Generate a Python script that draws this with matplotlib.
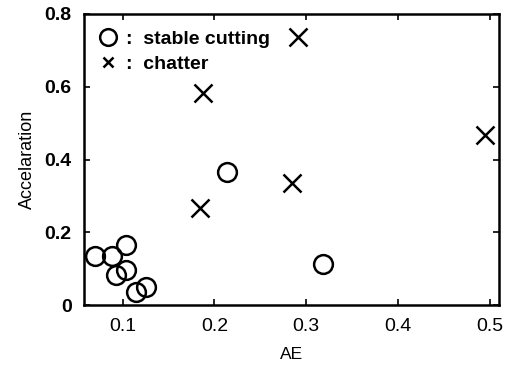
import matplotlib
matplotlib.use("Agg")
import matplotlib.pyplot as plt
from matplotlib.lines import Line2D

plt.rcParams['font.family'] = ['Liberation Sans', 'DejaVu Sans']

# Data
stable_ae = [0.070, 0.088, 0.104, 0.093, 0.104, 0.115, 0.125, 0.214, 0.318]
stable_acc = [0.135, 0.135, 0.165, 0.082, 0.096, 0.036, 0.049, 0.366, 0.113]
chatter_ae = [0.188, 0.184, 0.285, 0.495, 0.291]
chatter_acc = [0.583, 0.267, 0.336, 0.468, 0.737]

xticks = [0.1, 0.2, 0.3, 0.4, 0.5]
xticklabels = ["0.1", "0.2", "0.3", "0.4", "0.5"]
yticks = [0, 0.2, 0.4, 0.6, 0.8]
yticklabels = ["0", "0.2", "0.4", "0.6", "0.8"]

fig = plt.figure(figsize=(5.07, 3.68), dpi=100)
ax = fig.add_axes([0.1657, 0.171, 0.8183, 0.791])

ax.plot(stable_ae, stable_acc, linestyle='none', marker='o', markersize=13.5,
        markerfacecolor='none', markeredgecolor='black', markeredgewidth=1.8)
ax.plot(chatter_ae, chatter_acc, linestyle='none', marker='x', markersize=13,
        color='black', markeredgewidth=1.8)

ax.set_xlim(0.058, 0.51)
ax.set_ylim(0, 0.8)
ax.set_xticks(xticks)
ax.set_xticklabels(xticklabels)
ax.set_yticks(yticks)
ax.set_yticklabels(yticklabels)
ax.tick_params(direction='in', top=True, right=True, length=4, width=1.2,
               labelsize=14)
ax.tick_params(axis='y', pad=9)
ax.tick_params(axis='x', pad=9)
for lab in ax.get_yticklabels():
    lab.set_fontweight('bold')
for s in ax.spines.values():
    s.set_linewidth(1.8)

ax.set_xlabel("AE", fontsize=12.5, labelpad=9)
ax.set_ylabel("Accelaration", fontsize=13, labelpad=6)

handles = [
    Line2D([], [], linestyle='none', marker='o', markersize=12, markerfacecolor='none',
           markeredgecolor='black', markeredgewidth=1.8),
    Line2D([], [], linestyle='none', marker='x', markersize=7, color='black',
           markeredgewidth=1.8),
]
leg = ax.legend(handles, [":  stable cutting", ":  chatter"], loc='upper left',
                frameon=False, handlelength=0.8, handletextpad=0.5,
                borderaxespad=0.45, labelspacing=0.35,
                prop={'size': 14, 'weight': 'bold'})

fig.savefig("out.png", dpi=100)
